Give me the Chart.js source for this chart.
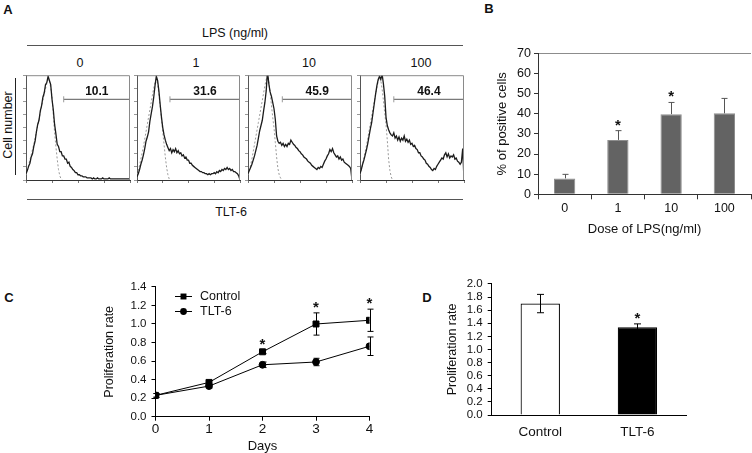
<!DOCTYPE html>
<html><head><meta charset="utf-8">
<script src="https://cdn.jsdelivr.net/npm/chart.js@4.4.1/dist/chart.umd.min.js"></script>
<style>
html,body{margin:0;padding:0;background:#fff;}
body{width:752px;height:453px;position:relative;overflow:hidden;font-family:'Liberation Sans',Arial,sans-serif;color:#111;}
canvas{position:absolute;}
.t{position:absolute;transform:translate(-50%,-50%);white-space:nowrap;font-size:12.5px;line-height:1;color:#111;}
.b{font-weight:bold;font-size:13px;}
.hl{position:absolute;height:0;border-top:1px solid #555;}
.vl{position:absolute;width:0;border-left:1px solid #222;}
</style></head><body>
<div class="t b" style="left:8px;top:9px">A</div>
<div class="t b" style="left:489px;top:8px">B</div>
<div class="t b" style="left:9px;top:297px">C</div>
<div class="t b" style="left:427px;top:297px">D</div>
<div class="t" style="left:235px;top:33px">LPS (ng/ml)</div>
<div class="hl" style="left:27px;top:45px;width:436px"></div>
<div class="t" style="left:80px;top:63px">0</div>
<div class="t" style="left:196px;top:63px">1</div>
<div class="t" style="left:309px;top:63px">10</div>
<div class="t" style="left:421px;top:63px">100</div>
<div class="t" style="left:8px;top:125px;transform:translate(-50%,-50%) rotate(-90deg)">Cell number</div>
<div class="vl" style="left:15px;top:78px;height:97px"></div>
<div class="hl" style="left:27px;top:199px;width:436px"></div>
<div class="t" style="left:231px;top:212px">TLT-6</div>

<canvas id="h1" width="115" height="135" style="left:18px;top:65px"></canvas>
<canvas id="h2" width="114" height="135" style="left:129px;top:65px"></canvas>
<canvas id="h3" width="115" height="135" style="left:240px;top:65px"></canvas>
<canvas id="h4" width="115" height="135" style="left:352px;top:65px"></canvas>
<canvas id="cB" width="262" height="200" style="left:490px;top:40px"></canvas>
<canvas id="cC" width="280" height="179" style="left:95px;top:275px"></canvas>
<canvas id="cD" width="260" height="181" style="left:430px;top:272px"></canvas>

<script>
// ---------- Panel B data ----------
const doseLabels = ['0', '1', '10', '100'];
const positivePct = [7.9, 27.0, 39.8, 40.2];
const positiveErr = [2.0, 4.6, 5.8, 7.4];
const positiveSig = [false, true, true, false];

// ---------- Panel A data (log10 fluorescence, % of max) ----------
const gatePct = ['10.1', '31.6', '45.9', '46.4'];
const gateStart = [1.45, 1.28, 1.32, 1.30];
const histX = [0,0.05,0.1,0.15,0.2,0.25,0.3,0.35,0.4,0.45,0.5,0.55,0.6,0.65,0.7,0.75,0.8,0.85,0.9,0.95,
  1,1.05,1.1,1.15,1.2,1.25,1.3,1.35,1.4,1.45,1.5,1.55,1.6,1.65,1.7,1.75,1.8,1.85,1.9,1.95,
  2,2.05,2.1,2.15,2.2,2.25,2.3,2.35,2.4,2.45,2.5,2.55,2.6,2.65,2.7,2.75,2.8,2.85,2.9,2.95,
  3,3.05,3.1,3.15,3.2,3.25,3.3,3.35,3.4,3.45,3.5,3.55,3.6,3.65,3.7,3.75,3.8,3.85,3.9,3.95,4];
const tlt6Lps0 = [6,9,13,16,22,25,32,37,46,53,57,66,71,79,83,91,93,99,95,91,77,67,53,44,34,32,27,27,23,23,20,20,16,17,13,12,10,9,7,7,5,5,4,4,3,3,3,2,2,2,2,
  1,2,1,1,2,1,1,1,2,1,1,1,1,2,1,1,1,1,1,1,1,1,1,1,1,1,1,1,1,1];
const isoLps0 = [5,9,14,19,24,29,34,40,46,52,58,64,70,76,82,87,92,96,95,88,80,62,45,32,20,10,4,1,0];
const tlt6Lps1 = [3,6,10,15,19,24,30,37,41,46,56,63,70,79,90,99,95,85,72,60,50,43,38,34,31,28,30,26,29,27,30,26,28,25,26,23,24,21,22,19,
  19,16,16,14,13,12,11,10,9,8,8,7,7,6,6,5,6,5,6,6,7,6,8,7,9,8,10,9,11,10,12,10,11,9,10,8,8,7,6,4,0];
const isoLps1 = [5,9,14,20,26,32,39,46,53,60,67,74,81,88,93,96,92,82,70,58,46,34,22,12,5,1,0];
const tlt6Lps10 = [6,9,12,15,19,23,28,33,40,47,52,57,66,74,85,104,92,84,80,74,68,58,42,37,35,36,33,35,32,34,32,35,34,38,36,34,33,31,30,28,
  27,25,24,22,21,20,18,17,16,14,13,12,11,10,12,11,13,12,15,18,20,23,25,29,27,30,26,24,22,23,20,22,19,20,17,16,15,14,13,11,0];
const isoLps10 = [5,9,14,20,27,34,41,48,55,62,69,76,83,90,96,100,94,84,72,60,50,36,22,11,5,2,0];
const tlt6Lps100 = [6,10,15,19,24,29,35,42,49,55,64,73,82,90,96,99,96,101,92,80,60,52,48,45,43,42,45,40,42,38,41,37,40,38,42,37,39,36,38,34,
  35,32,33,30,29,26,26,23,22,20,19,16,15,13,12,10,9,11,10,13,15,17,19,21,20,24,26,22,25,21,23,22,24,20,21,18,17,15,17,30,0];
const isoLps100 = [5,10,15,21,27,33,40,47,54,61,68,75,82,88,94,98,95,87,76,64,53,38,20,9,3,0];

// ---------- Panel C data ----------
const days = [0, 1, 2, 3, 4];
const controlRate = [0.23, 0.37, 0.70, 1.00, 1.04];
const controlErr = [0.02, 0.02, 0.02, 0.12, 0.12];
const controlSig = [false, false, true, true, true];
const tltRate = [0.23, 0.33, 0.56, 0.59, 0.76];
const tltErr = [0.02, 0.02, 0.03, 0.04, 0.10];

// ---------- Panel D data ----------
const groups = ['Control', 'TLT-6'];
const groupRate = [1.70, 1.34];
const groupErr = [0.14, 0.05];
const groupSig = [false, true];

const GATE_Y = 77, GATE_LABEL_Y = 84;
const FONT = "'Liberation Sans', Arial, sans-serif";
Chart.defaults.font.family = FONT;
Chart.defaults.color = '#111';

const errorBars = {
  id: 'errorBars',
  afterDatasetsDraw(chart) {
    const c = chart.ctx;
    chart.data.datasets.forEach((ds, di) => {
      if (!ds.errors) return;
      const meta = chart.getDatasetMeta(di);
      const ys = chart.scales[meta.yAxisID];
      c.save();
      c.strokeStyle = ds.errColor; c.lineWidth = 1;
      meta.data.forEach((el, i) => {
        const e = ds.errors[i]; if (!e) return;
        const v = ds.data[i]; const val = (typeof v === 'object') ? v.y : v;
        const x = Math.round(el.x) + 0.5;
        const yTop = ys.getPixelForValue(val + e);
        const yBot = ds.errMode === 'up' ? ys.getPixelForValue(val) : ys.getPixelForValue(val - e);
        const h = ds.capW / 2;
        c.beginPath();
        c.moveTo(x, yTop); c.lineTo(x, yBot);
        c.moveTo(x - h, yTop); c.lineTo(x + h, yTop);
        if (ds.errMode !== 'up') { c.moveTo(x - h, yBot); c.lineTo(x + h, yBot); }
        c.stroke();
      });
      c.restore();
    });
  }
};

const stars = {
  id: 'stars',
  afterDatasetsDraw(chart) {
    const c = chart.ctx;
    chart.data.datasets.forEach((ds, di) => {
      if (!ds.stars) return;
      const meta = chart.getDatasetMeta(di);
      const ys = chart.scales[meta.yAxisID];
      c.save();
      c.font = 'bold 15px ' + FONT; c.fillStyle = '#111';
      c.textAlign = 'center'; c.textBaseline = 'alphabetic';
      ds.stars.forEach((f, i) => {
        if (!f) return;
        const v = ds.data[i]; const val = (typeof v === 'object') ? v.y : v;
        const top = ys.getPixelForValue(val + (ds.errors ? ds.errors[i] : 0));
        c.fillText('*', meta.data[i].x, top - 1);
      });
      c.restore();
    });
  }
};

const boxTR = {
  id: 'boxTR',
  afterDraw(chart) {
    const a = chart.chartArea, c = chart.ctx;
    c.save(); c.strokeStyle = '#8a8a8a'; c.lineWidth = 1;
    c.beginPath(); c.moveTo(a.left, a.top + 0.5); c.lineTo(a.right - 0.5, a.top + 0.5); c.lineTo(a.right - 0.5, a.bottom); c.stroke();
    c.restore();
  }
};

function hist(id, solid, iso, g0, label) {
  new Chart(document.getElementById(id), {
    type: 'line',
    data: { datasets: [
      { data: solid.map((y, i) => ({ x: histX[i], y })), borderColor: '#1c1c1c', borderWidth: 1.3, pointRadius: 0, tension: 0 },
      { data: iso.map((y, i) => ({ x: histX[i], y })), borderColor: '#9a9a9a', borderWidth: 1, borderDash: [2, 2], pointRadius: 0, tension: 0 },
      { data: [{ x: g0, y: GATE_Y }, { x: 4, y: GATE_Y }], borderColor: '#7a7a7a', borderWidth: 1.2, pointRadius: 3, pointStyle: 'line', rotation: 90, pointBorderColor: '#9a9a9a', pointBorderWidth: 1, tension: 0 }
    ] },
    options: {
      responsive: false, animation: false, events: [],
      layout: { autoPadding: false, padding: { top: 6, right: 3, left: 0, bottom: 0 } },
      plugins: { legend: { display: false }, tooltip: { enabled: false } },
      scales: {
        x: { type: 'linear', min: 0, max: 4, ticks: { stepSize: 1, autoSkip: false, callback: () => '' },
             grid: { drawOnChartArea: false, tickLength: 3, tickColor: '#777' },
             border: { color: '#333', dash: [1, 1] }, afterFit: s => { s.height = 20; } },
        y: { min: 0, max: 100, ticks: { stepSize: 12.5, autoSkip: false, callback: () => '' },
             grid: { drawOnChartArea: false, tickLength: 3, tickColor: '#999' },
             border: { color: '#555' }, afterFit: s => { s.width = 8; } }
      }
    },
    plugins: [boxTR, {
      id: 'gateLabel',
      afterDraw(chart) {
        const c = chart.ctx, xs = chart.scales.x, ys = chart.scales.y;
        c.save(); c.font = 'bold 12px ' + FONT; c.fillStyle = '#111';
        c.textAlign = 'center'; c.textBaseline = 'middle';
        c.fillText(label, xs.getPixelForValue((g0 + 4) / 2), ys.getPixelForValue(GATE_LABEL_Y));
        c.restore();
      }
    }]
  });
}
hist('h1', tlt6Lps0, isoLps0, gateStart[0], gatePct[0]);
hist('h2', tlt6Lps1, isoLps1, gateStart[1], gatePct[1]);
hist('h3', tlt6Lps10, isoLps10, gateStart[2], gatePct[2]);
hist('h4', tlt6Lps100, isoLps100, gateStart[3], gatePct[3]);

// ---------- Panel B ----------
new Chart(document.getElementById('cB'), {
  type: 'bar',
  data: { labels: doseLabels, datasets: [{
    data: positivePct, backgroundColor: '#636363', borderColor: '#8e8e8e', borderWidth: 1,
    barPercentage: 0.4, categoryPercentage: 1,
    errors: positiveErr, errMode: 'up', errColor: '#555', capW: 6, stars: positiveSig }] },
  options: {
    responsive: false, animation: false, events: [],
    layout: { padding: { top: 13.3, right: 1, left: 0, bottom: 0 } },
    plugins: { legend: { display: false }, tooltip: { enabled: false } },
    scales: {
      x: { grid: { offset: true, drawOnChartArea: false, tickLength: 5, tickColor: '#333' },
           border: { color: '#333' }, ticks: { font: { size: 12.5 }, padding: 2, autoSkip: false },
           title: { display: true, text: 'Dose of LPS(ng/ml)', font: { size: 13 }, padding: { top: 0, bottom: 3 } },
           afterFit: s => { s.height = 45.7; } },
      y: { min: 0, max: 70, ticks: { stepSize: 10, font: { size: 12.5 }, padding: 3, autoSkip: false },
           grid: { color: c => (c.tick && c.tick.value === 70) ? '#8c8c8c' : 'rgba(0,0,0,0)', tickColor: '#333', tickLength: 4 },
           border: { color: '#333' },
           title: { display: true, text: '% of positive cells', font: { size: 13 }, padding: { top: 5, bottom: 0 } },
           afterFit: s => { s.width = 48; } }
    }
  },
  plugins: [errorBars, stars]
});

// ---------- Panel C ----------
const legendC = {
  id: 'legendC',
  afterDraw(chart) {
    const a = chart.chartArea, c = chart.ctx;
    c.save();
    chart.data.datasets.forEach((ds, i) => {
      const y = a.top + 9.6 + i * 15;
      c.strokeStyle = '#000'; c.lineWidth = 1;
      c.beginPath(); c.moveTo(a.left + 19.5, y); c.lineTo(a.left + 36.5, y); c.stroke();
      c.fillStyle = '#000';
      const mx = a.left + 28;
      if (ds.pointStyle === 'rect') { const s = ds.pointRadius * Math.SQRT1_2; c.fillRect(mx - s, y - s, 2 * s, 2 * s); }
      else { c.beginPath(); c.arc(mx, y, ds.pointRadius, 0, Math.PI * 2); c.fill(); }
      c.fillStyle = '#111';
      c.font = '12.5px ' + FONT; c.textAlign = 'left'; c.textBaseline = 'middle';
      c.fillText(ds.label, a.left + 44.5, y + 0.5);
    });
    c.restore();
  }
};
new Chart(document.getElementById('cC'), {
  type: 'line',
  data: { datasets: [
    { label: 'Control', data: days.map((d, i) => ({ x: d, y: controlRate[i] })), borderColor: '#000', backgroundColor: '#000',
      pointBackgroundColor: '#000', borderWidth: 1, pointStyle: 'rect', pointRadius: 4.2, tension: 0,
      errors: controlErr, errMode: 'both', errColor: '#000', capW: 6, stars: controlSig },
    { label: 'TLT-6', data: days.map((d, i) => ({ x: d, y: tltRate[i] })), borderColor: '#000', backgroundColor: '#000',
      pointBackgroundColor: '#000', borderWidth: 1, pointStyle: 'circle', pointRadius: 3.4, tension: 0,
      errors: tltErr, errMode: 'both', errColor: '#000', capW: 6 }
  ] },
  options: {
    responsive: false, animation: false, events: [],
    layout: { autoPadding: false, padding: { top: 8.7, right: 5.5, left: 0, bottom: 0 } },
    plugins: { legend: { display: false }, tooltip: { enabled: false } },
    scales: {
      x: { type: 'linear', min: 0, max: 4, ticks: { stepSize: 1, font: { size: 13.5 }, padding: 0, autoSkip: false },
           grid: { drawOnChartArea: false, tickLength: 4, tickColor: '#000' }, border: { color: '#000' },
           title: { display: true, text: 'Days', font: { size: 13 }, padding: { top: 0, bottom: 0 } },
           afterFit: s => { s.height = 37.3; } },
      y: { min: 0, max: 1.4, ticks: { stepSize: 0.2, font: { size: 11.5 }, padding: 5, autoSkip: false, callback: v => v.toFixed(1) },
           grid: { drawOnChartArea: false, tickLength: 4, tickColor: '#000' }, border: { color: '#000' },
           title: { display: true, text: 'Proliferation rate', font: { size: 12.5 }, padding: { top: 7.5, bottom: 0 } },
           afterFit: s => { s.width = 60.5; } }
    }
  },
  plugins: [errorBars, stars, legendC]
});

// ---------- Panel D ----------
new Chart(document.getElementById('cD'), {
  type: 'bar',
  data: { labels: groups, datasets: [{
    data: groupRate, backgroundColor: ['#ffffff', '#000000'], borderColor: '#000', borderWidth: 1.2,
    barPercentage: 0.405, categoryPercentage: 1,
    errors: groupErr, errMode: 'both', errColor: '#000', capW: 7, stars: groupSig }] },
  options: {
    responsive: false, animation: false, events: [],
    layout: { padding: { top: 9.7, right: 4, left: 0, bottom: 0 } },
    plugins: { legend: { display: false }, tooltip: { enabled: false } },
    scales: {
      x: { grid: { display: false, drawTicks: false }, border: { color: '#000' }, ticks: { font: { size: 13.5 }, padding: 9, autoSkip: false },
           afterFit: s => { s.height = 38; } },
      y: { min: 0, max: 2, ticks: { stepSize: 0.2, font: { size: 11.5 }, padding: 5, autoSkip: false, callback: v => v.toFixed(1) },
           grid: { drawOnChartArea: false, tickLength: 4, tickColor: '#000' }, border: { color: '#000' },
           title: { display: true, text: 'Proliferation rate', font: { size: 12.5 }, padding: { top: 15.5, bottom: 0 } },
           afterFit: s => { s.width = 61.7; } }
    }
  },
  plugins: [errorBars, stars]
});
</script>
</body></html>
